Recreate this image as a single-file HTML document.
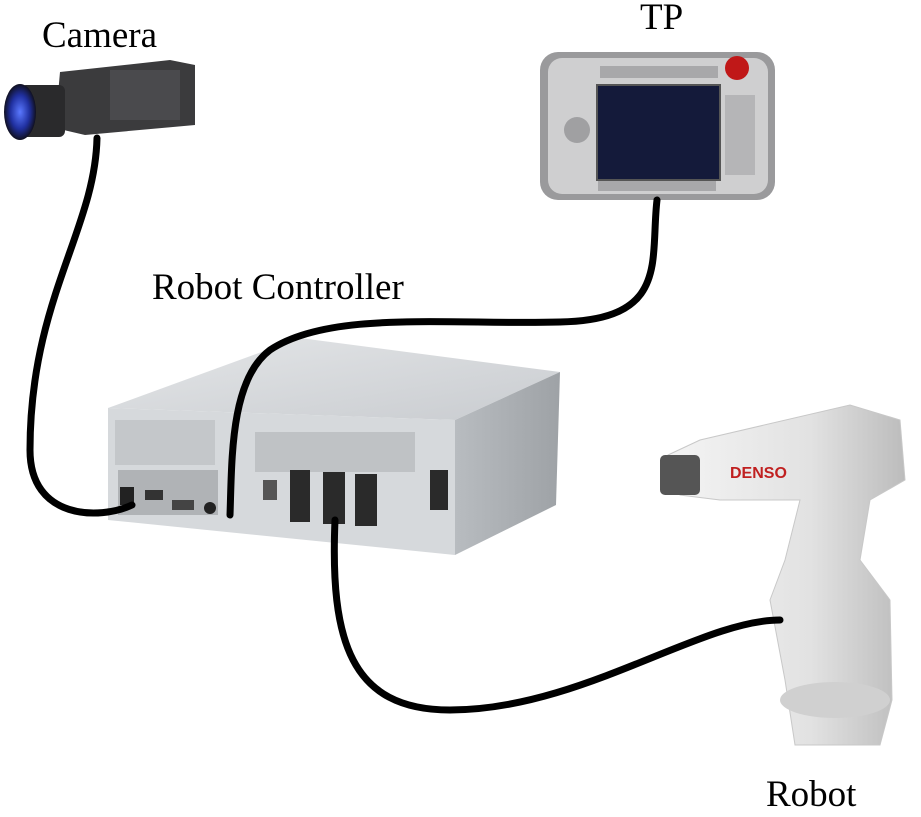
<!DOCTYPE html>
<html><head><meta charset="utf-8"><style>
html,body{margin:0;padding:0;background:#fff;}
svg{display:block}
text{font-family:"Liberation Serif",serif;fill:#000}
</style></head><body>
<svg width="921" height="817" viewBox="0 0 921 817">
<defs>
<linearGradient id="top" x1="0" y1="0" x2="1" y2="1"><stop offset="0" stop-color="#e4e6e8"/><stop offset="1" stop-color="#c9ccd0"/></linearGradient>
<linearGradient id="side" x1="0" y1="0" x2="1" y2="0"><stop offset="0" stop-color="#b8bcc0"/><stop offset="1" stop-color="#9ea2a6"/></linearGradient>
<radialGradient id="lens" cx="0.5" cy="0.5" r="0.5"><stop offset="0" stop-color="#5a78ff"/><stop offset="0.6" stop-color="#2030a0"/><stop offset="1" stop-color="#101020"/></radialGradient>
<linearGradient id="rob" x1="0" y1="0" x2="1" y2="0"><stop offset="0" stop-color="#f4f4f4"/><stop offset="0.6" stop-color="#e2e2e2"/><stop offset="1" stop-color="#bcbcbc"/></linearGradient>
</defs>

<!-- labels -->
<text x="42" y="47" font-size="37">Camera</text>
<text x="640" y="29" font-size="37">TP</text>
<text x="152" y="299" font-size="37">Robot Controller</text>
<text x="766" y="806" font-size="37">Robot</text>

<!-- Controller -->
<polygon points="108,408 300,338 560,372 455,420" fill="url(#top)"/>
<polygon points="455,420 560,372 556,505 455,555" fill="url(#side)"/>
<polygon points="108,408 455,420 455,555 108,520" fill="#d6d9dc"/>
<rect x="115" y="420" width="100" height="45" fill="#c4c7ca"/>
<rect x="118" y="470" width="100" height="45" fill="#b0b3b6"/>
<rect x="120" y="487" width="14" height="18" fill="#222"/>
<rect x="145" y="490" width="18" height="10" fill="#333"/>
<rect x="172" y="500" width="22" height="10" fill="#444"/>
<circle cx="210" cy="508" r="6" fill="#222"/>
<rect x="255" y="432" width="160" height="40" fill="#bfc2c5"/>
<rect x="290" y="470" width="20" height="52" fill="#2a2a2a"/>
<rect x="323" y="472" width="22" height="52" fill="#2a2a2a"/>
<rect x="355" y="474" width="22" height="52" fill="#2a2a2a"/>
<rect x="430" y="470" width="18" height="40" fill="#2a2a2a"/>
<rect x="263" y="480" width="14" height="20" fill="#555"/>

<!-- Camera -->
<polygon points="60,72 170,60 195,65 195,125 85,135 55,128" fill="#3b3b3d"/>
<rect x="110" y="70" width="70" height="50" fill="#4a4a4d"/>
<rect x="20" y="85" width="45" height="52" fill="#2a2a2c" rx="6"/>
<ellipse cx="20" cy="112" rx="16" ry="28" fill="url(#lens)"/>

<!-- TP -->
<rect x="540" y="52" width="235" height="148" rx="18" fill="#9a9a9c"/>
<rect x="548" y="58" width="220" height="136" rx="14" fill="#cfcfd0"/>
<rect x="597" y="85" width="123" height="95" fill="#141a3a" stroke="#555" stroke-width="2"/>
<circle cx="737" cy="68" r="12" fill="#c01818"/>
<rect x="600" y="66" width="118" height="12" fill="#a8a8aa"/>
<rect x="598" y="181" width="118" height="10" fill="#a8a8aa"/>
<circle cx="577" cy="130" r="13" fill="#a0a0a2"/>
<rect x="725" y="95" width="30" height="80" fill="#b5b5b7"/>

<!-- Robot -->
<path d="M668,455 L700,440 L850,405 L900,420 L905,480 L870,500 L860,560 L890,600 L892,700 L880,745 L795,745 L785,680 L770,600 L785,560 L800,500 L720,500 L680,495 Z" fill="url(#rob)" stroke="#c8c8c8"/>
<rect x="660" y="455" width="40" height="40" fill="#555" rx="5"/>
<text x="730" y="478" font-size="16" style="fill:#c02020;font-family:'Liberation Sans',sans-serif;font-weight:bold">DENSO</text>
<ellipse cx="835" cy="700" rx="55" ry="18" fill="#d0d0d0"/>

<!-- cables -->
<g fill="none" stroke="#000" stroke-width="7" stroke-linecap="round">
<path d="M97,138 C95,230 30,300 30,450 C30,520 100,520 132,505"/>
<path d="M657,200 C650,260 670,320 560,322 C450,325 330,310 270,350 C230,380 232,460 230,515"/>
<path d="M335,520 C330,640 350,710 450,710 C580,710 700,620 780,620"/>
</g>
</svg>
</body></html>
